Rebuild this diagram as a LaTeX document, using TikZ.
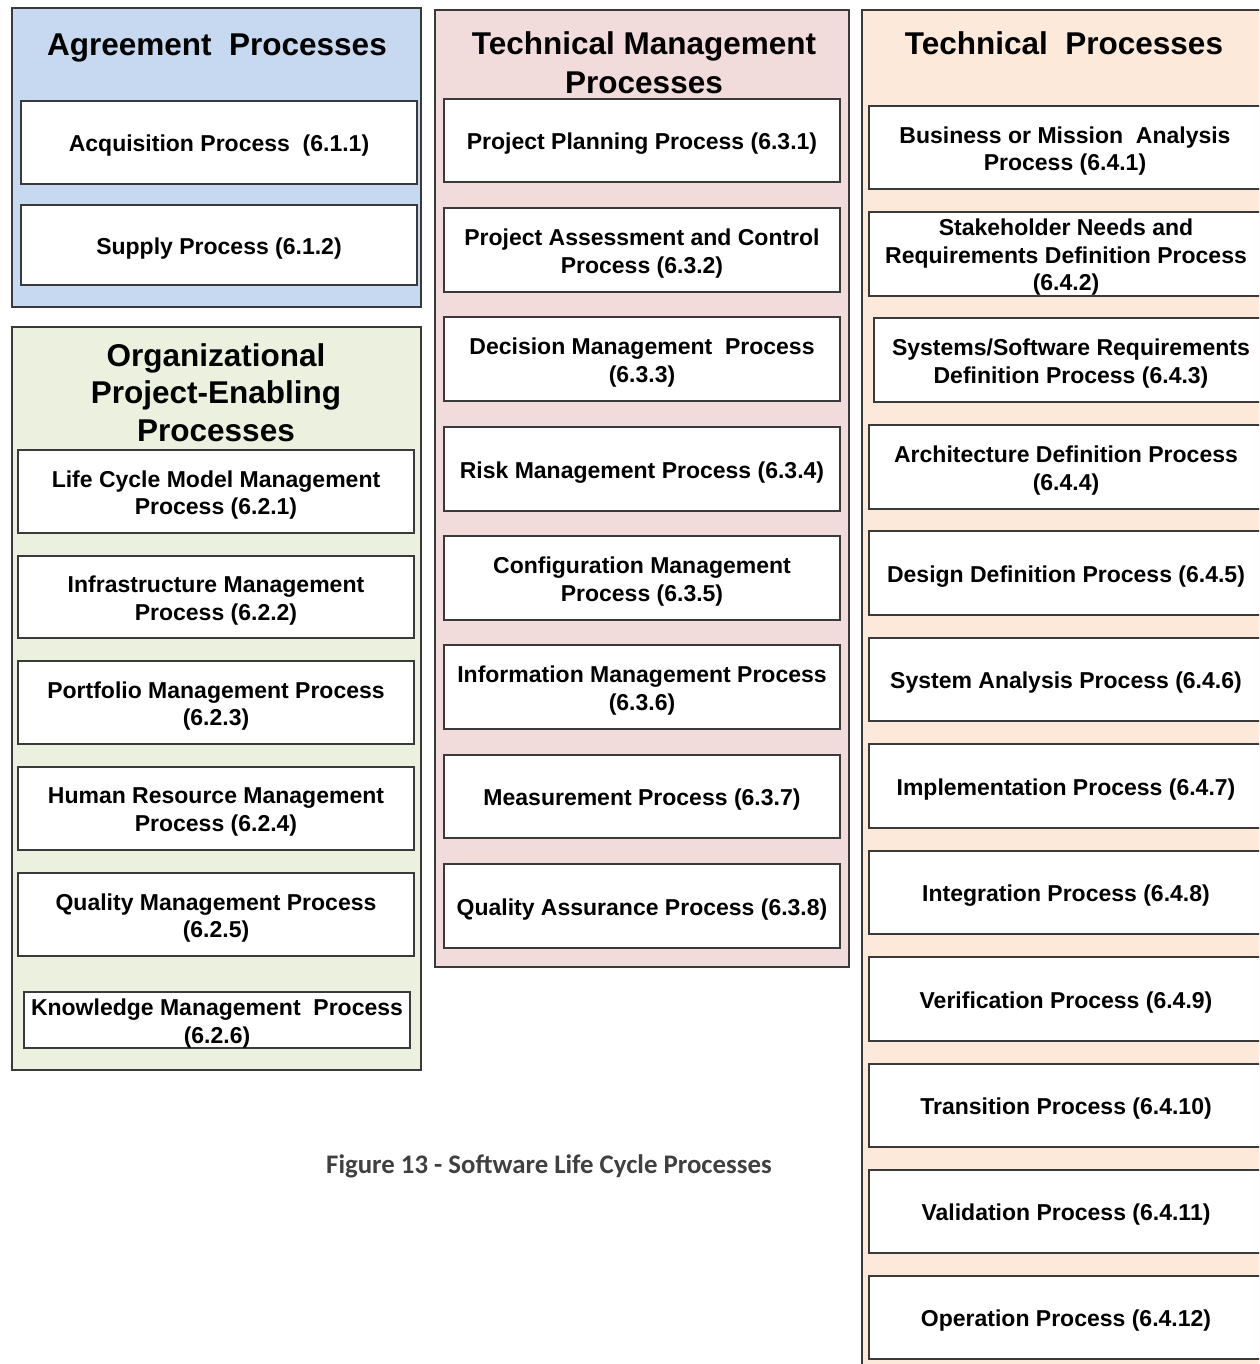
\documentclass[tikz,border=0pt]{standalone}
\usepackage{fontspec}
\setmainfont{Liberation Sans}
\newfontfamily\captionfont{Carlito}

\definecolor{agreeblue}{HTML}{C6D9F0}
\definecolor{orggreen}{HTML}{EBF1DE}
\definecolor{tmpink}{HTML}{F2DCDB}
\definecolor{techpeach}{HTML}{FDE9D9}
\definecolor{edgegray}{HTML}{3A3A3A}
\definecolor{captiongray}{HTML}{404040}

% group frame: name, corners (x1,y1) (x2,y2), fill colour
\newcommand\groupframe[6]{%
  \pgfmathsetmacro\pbx{(#2+#4)/2}\pgfmathsetmacro\pby{(#3+#5)/2}%
  \pgfmathsetmacro\pbw{#4-#2}\pgfmathsetmacro\pbh{#5-#3}%
  \node[groupbox, fill=#6, minimum width=\pbw pt, minimum height=\pbh pt] (#1) at (\pbx,\pby) {};}
% process box: name, corners, text (text sits slightly below the centre)
\newcommand\procnode[6]{%
  \pgfmathsetmacro\pbx{(#2+#4)/2}\pgfmathsetmacro\pby{(#3+#5)/2}%
  \pgfmathsetmacro\pbw{#4-#2}\pgfmathsetmacro\pbh{#5-#3}%
  \node[procbox, minimum width=\pbw pt, minimum height=\pbh pt] (#1) at (\pbx,\pby) {};
  \node[proctext, yshift=-3.5pt] (#1-text) at (#1.center) {#6};}

\begin{document}
\begin{tikzpicture}[x=1pt,y=-1pt,
  groupbox/.style={draw=edgegray, line width=2.4pt, inner sep=0pt, rectangle},
  procbox/.style={draw=edgegray, line width=2pt, fill=white, inner sep=0pt, rectangle},
  proctext/.style={inner sep=0pt, align=center, text=black,
    font=\fontsize{23}{27.5}\selectfont\bfseries},
  grouptitle/.style={anchor=base, inner sep=0pt, align=center,
    font=\fontsize{31.5}{38}\selectfont\bfseries},
  figcaption/.style={anchor=base, inner sep=0pt, text=captiongray,
    font=\captionfont\fontsize{26.8}{32}\selectfont\bfseries}]
\useasboundingbox (0,0) rectangle (1259,1364);
\clip (0,0) rectangle (1259,1364);

% ---- Agreement Processes ----
\groupframe{agree}{12}{8}{421}{307}{agreeblue}
\node[grouptitle] (agreetitle) at (217,56) {Agreement\ \ Processes};
\procnode{p611}{21}{101}{417}{184}{Acquisition Process\ \ (6.1.1)}
\procnode{p612}{21}{205}{417}{285}{Supply Process (6.1.2)}

% ---- Organizational Project-Enabling Processes ----
\groupframe{org}{12}{327}{421}{1070}{orggreen}
\node[grouptitle] (orgtitle1) at (216,366.5) {Organizational};
\node[grouptitle] (orgtitle2) at (216,403.5) {Project-Enabling};
\node[grouptitle] (orgtitle3) at (216,441.5) {Processes};
\procnode{p621}{18}{450}{414}{533}{Life Cycle Model Management\\Process (6.2.1)}
\procnode{p622}{18}{556}{414}{638}{Infrastructure Management\\Process (6.2.2)}
\procnode{p623}{18}{661}{414}{744}{Portfolio Management Process\\(6.2.3)}
\procnode{p624}{18}{767}{414}{850}{Human Resource Management\\Process (6.2.4)}
\procnode{p625}{18}{873}{414}{956}{Quality Management Process\\(6.2.5)}
\procnode{p626}{24}{992}{410}{1048}{Knowledge Management\ \ Process\\(6.2.6)}

% ---- Technical Management Processes ----
\groupframe{techmgmt}{435}{10}{849}{967}{tmpink}
\node[grouptitle] (tmtitle1) at (644,55) {Technical Management};
\node[grouptitle] (tmtitle2) at (644,93.5) {Processes};
\procnode{p631}{444}{99}{840}{182}{Project Planning Process (6.3.1)}
\procnode{p632}{444}{208}{840}{292}{Project Assessment and Control\\Process (6.3.2)}
\procnode{p633}{444}{317}{840}{401}{Decision Management\ \ Process\\(6.3.3)}
\procnode{p634}{444}{427}{840}{511}{Risk Management Process (6.3.4)}
\procnode{p635}{444}{536}{840}{620}{Configuration Management\\Process (6.3.5)}
\procnode{p636}{444}{645}{840}{729}{Information Management Process\\(6.3.6)}
\procnode{p637}{444}{755}{840}{838}{Measurement Process (6.3.7)}
\procnode{p638}{444}{864}{840}{948}{Quality Assurance Process (6.3.8)}

% ---- Technical Processes (runs past the right edge) ----
\groupframe{tech}{862}{10}{1268}{1380}{techpeach}
\node[grouptitle] (techtitle) at (1064,55) {Technical\ \ Processes};
\procnode{p641}{869}{106}{1261}{189}{Business or Mission\ \ Analysis\\Process (6.4.1)}
\procnode{p642}{869}{212}{1263}{296}{Stakeholder Needs and\\Requirements Definition Process\\(6.4.2)}
\procnode{p643}{874}{318}{1268}{402}{Systems/Software Requirements\\Definition Process (6.4.3)}
\procnode{p644}{869}{425}{1263}{509}{Architecture Definition Process\\(6.4.4)}
\procnode{p645}{869}{531}{1263}{615}{Design Definition Process (6.4.5)}
\procnode{p646}{869}{638}{1263}{721}{System Analysis Process (6.4.6)}
\procnode{p647}{869}{744}{1263}{828}{Implementation Process (6.4.7)}
\procnode{p648}{869}{851}{1263}{934}{Integration Process (6.4.8)}
\procnode{p649}{869}{957}{1263}{1041}{Verification Process (6.4.9)}
\procnode{p6410}{869}{1064}{1263}{1147}{Transition Process (6.4.10)}
\procnode{p6411}{869}{1170}{1263}{1253}{Validation Process (6.4.11)}
\procnode{p6412}{869}{1276}{1263}{1359}{Operation Process (6.4.12)}

% ---- caption ----
\node[figcaption] (caption) at (549,1173) {Figure 13 - Software Life Cycle Processes};
\end{tikzpicture}
\end{document}
